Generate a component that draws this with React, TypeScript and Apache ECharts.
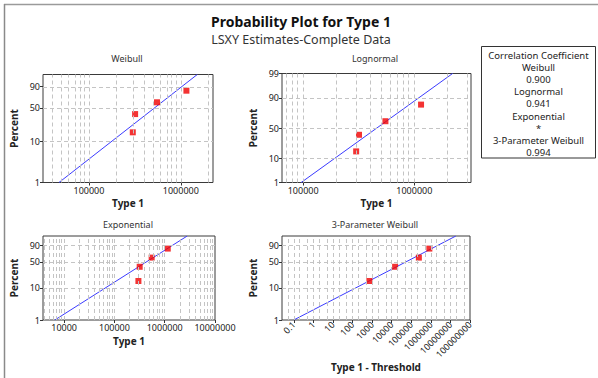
import React, { useEffect, useRef } from "react";
import * as echarts from "echarts";

// ---- data ----
const sampleX = [300000, 318000, 550000, 1150000];
const thresholdShiftedX = [730, 15000, 245000, 840000];
const percents = [15.9, 38.6, 61.4, 84.1];

const fitP = [1, 99];
const weibullFitX = [47200, 1510000];
const lognormalFitX = [96000, 2210000];
const exponentialFitX = [6530, 2800000];
const threeParamFitX = [0.1, 19000000];

const weibullYTicks = [1, 10, 50, 90];
const lognormalYTicks = [1, 10, 50, 90, 99];
const decadeXTicks = [100000, 1000000];
const exponentialXTicks = [10000, 100000, 1000000, 10000000];
const threeParamXTicks = [0.1, 1, 10, 100, 1000, 10000, 100000, 1000000, 10000000, 100000000];

const corrLabels = ["Correlation Coefficient", "Weibull", "0.900", "Lognormal", "0.941", "Exponential", "*", "3-Parameter Weibull", "0.994"];

// ---- scale transforms ----
const log10 = (v: number) => Math.log10(v);
const weib = (p: number) => Math.log(-Math.log(1 - p / 100));
function probit(pp: number) {
  const p = pp / 100;
  const a = [-3.969683028665376e1, 2.209460984245205e2, -2.759285104469687e2, 1.38357751867269e2, -3.066479806614716e1, 2.506628277459239];
  const b = [-5.447609879822406e1, 1.615858368580409e2, -1.556989798598866e2, 6.680131188771972e1, -1.328068155288572e1];
  const c = [-7.784894002430293e-3, -3.223964580411365e-1, -2.400758277161838, -2.549732539343734, 4.374664141464968, 2.938163982698783];
  const d = [7.784695709041462e-3, 3.224671290700398e-1, 2.445134137142996, 3.754408661907416];
  const pl = 0.02425;
  let q: number, r: number;
  if (p < pl) {
    q = Math.sqrt(-2 * Math.log(p));
    return (((((c[0] * q + c[1]) * q + c[2]) * q + c[3]) * q + c[4]) * q + c[5]) / ((((d[0] * q + d[1]) * q + d[2]) * q + d[3]) * q + 1);
  }
  if (p > 1 - pl) {
    q = Math.sqrt(-2 * Math.log(1 - p));
    return -(((((c[0] * q + c[1]) * q + c[2]) * q + c[3]) * q + c[4]) * q + c[5]) / ((((d[0] * q + d[1]) * q + d[2]) * q + d[3]) * q + 1);
  }
  q = p - 0.5;
  r = q * q;
  return ((((((a[0] * r + a[1]) * r + a[2]) * r + a[3]) * r + a[4]) * r + a[5]) * q) / (((((b[0] * r + b[1]) * r + b[2]) * r + b[3]) * r + b[4]) * r + 1);
}

const FONT = "'Noto Sans', 'DejaVu Sans', sans-serif";

function nearestLabel(list: number[], tf: (v: number) => number, v: number) {
  let best = list[0];
  let bd = Infinity;
  for (const t of list) {
    const dd = Math.abs(tf(t) - v);
    if (dd < bd) { bd = dd; best = t; }
  }
  return String(best);
}

function gridXValues(minLog: number, maxLog: number, mults: number[]) {
  const out: number[] = [];
  for (let e = Math.floor(minLog) - 1; e <= Math.ceil(maxLog); e++) {
    for (const m of mults) {
      const lv = e + Math.log10(m);
      if (lv > minLog + 0.005 && lv < maxLog - 0.005) out.push(lv);
    }
  }
  return out;
}

export default function App() {
  const ref = useRef<HTMLDivElement>(null);
  useEffect(() => {
    if (!ref.current) return;
    const chart = echarts.init(ref.current, undefined, { renderer: "svg" });

    const panels = [
      { title: "Weibull", tx: 127, ty: 58, grid: { left: 43, top: 74.5, width: 170, height: 108 }, xMin: 4.5, xMax: 6.35, yf: weib, yTicks: weibullYTicks, xTicks: decadeXTicks, xs: sampleX, fitX: weibullFitX, xName: "Type 1", rotate: 0, mults: [1, 2, 3, 4, 5, 6, 7, 8, 9], yGrid: [10, 50, 90] },
      { title: "Lognormal", tx: 375, ty: 58, grid: { left: 282, top: 73.5, width: 189, height: 109 }, xMin: 4.81, xMax: 6.51, yf: probit, yTicks: lognormalYTicks, xTicks: decadeXTicks, xs: sampleX, fitX: lognormalFitX, xName: "Type 1", rotate: 0, mults: [1, 2, 3, 4, 5, 6, 7, 8, 9], yGrid: [10, 50, 90] },
      { title: "Exponential", tx: 128, ty: 224, grid: { left: 43, top: 236, width: 172, height: 84 }, xMin: 3.58, xMax: 7.0, yf: weib, yTicks: weibullYTicks, xTicks: exponentialXTicks, xs: sampleX, fitX: exponentialFitX, xName: "Type 1", rotate: 0, mults: [1, 2, 3, 4, 5, 6, 7, 8, 9], yGrid: [10, 50, 90] },
      { title: "3-Parameter Weibull", tx: 375, ty: 224, grid: { left: 282, top: 236, width: 188, height: 84 }, xMin: -1.6, xMax: 8.0, yf: weib, yTicks: weibullYTicks, xTicks: threeParamXTicks, xs: thresholdShiftedX, fitX: threeParamFitX, xName: "Type 1 - Threshold", rotate: 45, mults: [1, 2, 5], yGrid: [10, 50, 90] },
    ];

    const grids: any[] = [];
    const xAxes: any[] = [];
    const yAxes: any[] = [];
    const series: any[] = [];
    const graphics: any[] = [];

    panels.forEach((pn, i) => {
      grids.push({ ...pn.grid, show: true, borderColor: "#3a3a3a", borderWidth: 1, backgroundColor: "#fff", containLabel: false });
      xAxes.push({
        type: "value", gridIndex: i, min: pn.xMin, max: pn.xMax, position: "bottom",
        axisLine: { show: false, onZero: false },
        axisTick: { show: true, customValues: pn.xTicks.map(log10), length: 3, lineStyle: { color: "#333" } },
        axisLabel: {
          customValues: pn.xTicks.map(log10), fontSize: 9, lineHeight: 9, color: "#222", fontFamily: FONT, margin: 3, rotate: pn.rotate,
          formatter: (v: number) => nearestLabel(pn.xTicks, log10, v),
        },
        splitLine: { show: false },
        name: pn.xName, nameLocation: "middle", nameGap: pn.rotate ? 41 : 15.5,
        nameTextStyle: { fontWeight: "bold", fontSize: 10, lineHeight: 10, color: "#222", fontFamily: FONT },
      });
      yAxes.push({
        type: "value", gridIndex: i, min: pn.yf(fitP[0]), max: pn.yf(fitP[1]), position: "left",
        axisLine: { show: false, onZero: false },
        axisTick: { show: true, customValues: pn.yTicks.map(pn.yf), length: 3, lineStyle: { color: "#333" } },
        axisLabel: {
          customValues: pn.yTicks.map(pn.yf), fontSize: 9, lineHeight: 9, color: "#222", fontFamily: FONT, margin: 3,
          formatter: (v: number) => nearestLabel(pn.yTicks, pn.yf, v),
        },
        splitLine: { show: false },
        name: "Percent", nameLocation: "middle", nameGap: 24, nameRotate: 90,
        nameTextStyle: { fontWeight: "bold", fontSize: 10, lineHeight: 10, color: "#222", fontFamily: FONT },
      });
      const vLines = gridXValues(pn.xMin, pn.xMax, pn.mults).map((v) => ({ xAxis: v }));
      const hLines = pn.yGrid.map((p) => ({ yAxis: pn.yf(p) }));
      series.push({
        type: "line", xAxisIndex: i, yAxisIndex: i, data: [], silent: true, z: 1,
        markLine: {
          silent: true, symbol: ["none", "none"], label: { show: false }, animation: false,
          lineStyle: { type: [4, 3], color: "#c4c4c4", width: 1 },
          emphasis: { disabled: true },
          data: [...vLines, ...hLines],
        },
      });
      series.push({
        type: "line", xAxisIndex: i, yAxisIndex: i, z: 3, showSymbol: false, silent: true, clip: true,
        data: pn.fitX.map((x, k) => [log10(x), pn.yf(fitP[k])]),
        lineStyle: { color: "#3b3bff", width: 1 },
      });
      series.push({
        type: "scatter", xAxisIndex: i, yAxisIndex: i, z: 4, symbol: "rect", symbolSize: 6, silent: true,
        itemStyle: { color: "#f00000" },
        data: pn.xs.map((x, k) => [log10(x), pn.yf(percents[k])]),
      });
      graphics.push({
        type: "text", x: pn.tx, y: pn.ty,
        style: { text: pn.title, fontSize: 9, fill: "#333", fontFamily: FONT, textAlign: "center", textVerticalAlign: "middle" },
      });
    });

    // window frame lines
    graphics.push({ type: "line", shape: { x1: 4, y1: 4.5, x2: 598, y2: 4.5 }, style: { stroke: "#9a9a9a", lineWidth: 1.5 } });
    graphics.push({ type: "line", shape: { x1: 4.5, y1: 4, x2: 4.5, y2: 378 }, style: { stroke: "#8a8a8a", lineWidth: 1.5 } });
    // titles
    graphics.push({ type: "text", x: 301, y: 21, style: { text: "Probability Plot for Type 1", fontSize: 14, fontWeight: "bold", fill: "#111", fontFamily: FONT, textAlign: "center", textVerticalAlign: "middle" } });
    graphics.push({ type: "text", x: 301, y: 39.5, style: { text: "LSXY Estimates-Complete Data", fontSize: 12.5, fill: "#333", fontFamily: FONT, textAlign: "center", textVerticalAlign: "middle" } });
    // correlation box
    graphics.push({ type: "rect", shape: { x: 481.5, y: 46.5, width: 114, height: 111.5 }, style: { fill: "#fff", stroke: "#333", lineWidth: 1 } });
    corrLabels.forEach((t, k) => {
      graphics.push({ type: "text", x: 538.5, y: 55 + k * 12.2, style: { text: t, fontSize: 9.5, fill: "#222", fontFamily: FONT, textAlign: "center", textVerticalAlign: "middle" } });
    });

    chart.setOption({
      animation: false,
      backgroundColor: "#fff",
      grid: grids,
      xAxis: xAxes,
      yAxis: yAxes,
      series,
      graphic: graphics,
    });
    return () => chart.dispose();
  }, []);
  return <div ref={ref} style={{ position: "fixed", left: 0, top: 0, width: 598, height: 378 }} />;
}
